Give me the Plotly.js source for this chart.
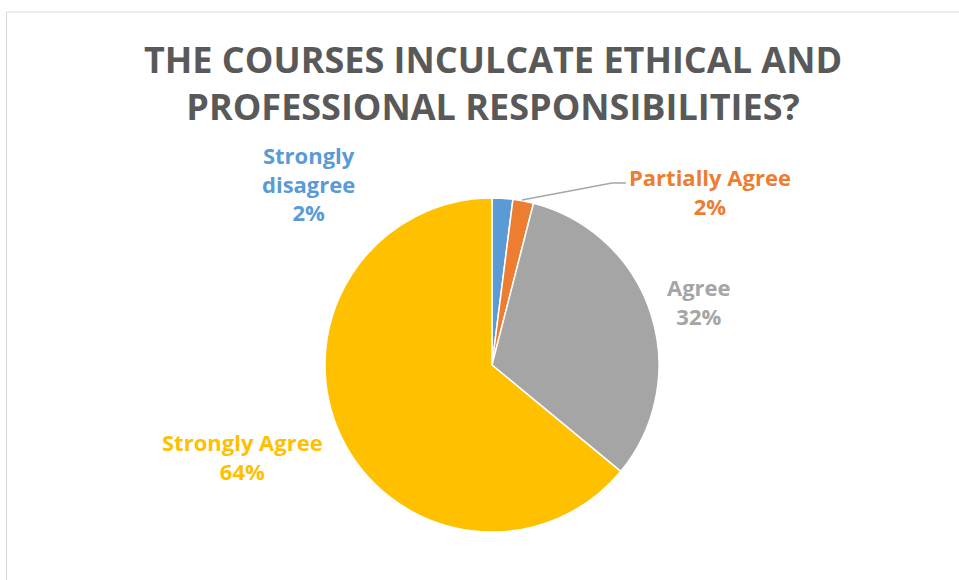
<!DOCTYPE html>
<html>
<head>
<meta charset="utf-8">
<script src="https://cdn.plot.ly/plotly-3.0.1.min.js"></script>
<style>html,body{margin:0;padding:0;background:#fff;}#chart{width:959px;height:580px;}</style>
</head>
<body>
<div id="chart"></div>
<script>
const categories = ["Strongly disagree", "Partially Agree", "Agree", "Strongly Agree"];
const labelLines = ["Strongly<br>disagree", "Partially Agree", "Agree", "Strongly Agree"];
const values = [2, 2, 32, 64];
const colors = ["#5B9BD5", "#ED7D31", "#A5A5A5", "#FFC000"];
const titleText = "THE COURSES INCULCATE ETHICAL AND<br>PROFESSIONAL RESPONSIBILITIES?";

const W = 959, H = 580;
const cx = 492, cy = 365, r = 167;
const FONT = "'Open Sans', sans-serif";

const total = values.reduce((a, b) => a + b, 0);
const pct = values.map(v => Math.round(v / total * 100) + "%");

// label anchor positions (pixels)
const labelPos = [[308, 184], [710, 191], [699, 301], [242, 456]];

const annotations = categories.map((c, i) => ({
  xref: "paper", yref: "paper",
  x: labelPos[i][0] / W, y: 1 - labelPos[i][1] / H,
  xanchor: "center", yanchor: "middle",
  text: labelLines[i] + "<br>" + pct[i],
  showarrow: false,
  align: "center",
  font: {family: FONT, size: 22, color: colors[i], weight: "bold"}
}));

const trace = {
  type: "pie",
  labels: categories,
  values: values,
  sort: false,
  direction: "clockwise",
  rotation: 0,
  textinfo: "none",
  hoverinfo: "label+percent",
  marker: {colors: colors, line: {color: "#ffffff", width: 1.5}},
  domain: {x: [(cx - r) / W, (cx + r) / W], y: [1 - (cy + r) / H, 1 - (cy - r) / H]},
  showlegend: false
};

const px = (x) => x / W, py = (y) => 1 - y / H;

const layout = {
  width: W, height: H,
  margin: {l: 0, r: 0, t: 0, b: 0},
  paper_bgcolor: "#ffffff",
  showlegend: false,
  title: {
    text: titleText,
    x: px(493), xanchor: "center",
    y: py(73), yanchor: "middle",
    font: {family: FONT, size: 36, color: "#595959", weight: "bold"}
  },
  annotations: annotations,
  shapes: [
    {type: "rect", xref: "paper", yref: "paper", x0: px(6.5), x1: px(1000), y0: py(12), y1: py(620),
     line: {color: "#D9D9D9", width: 1}, fillcolor: "rgba(0,0,0,0)", layer: "below"},
    {type: "path", xref: "paper", yref: "paper",
     path: "M" + px(522) + "," + py(200) + " L" + px(612) + "," + py(183) + " L" + px(626) + "," + py(183),
     line: {color: "#A6A6A6", width: 1.5}}
  ]
};

Plotly.newPlot("chart", [trace], layout, {displayModeBar: false, staticPlot: true});
</script>
</body>
</html>
